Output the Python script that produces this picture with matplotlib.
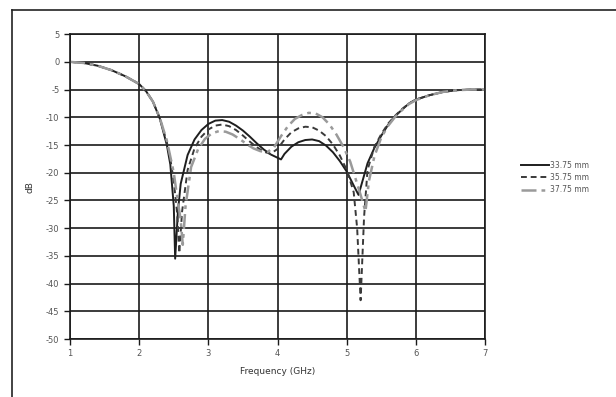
import matplotlib.pyplot as plt
from matplotlib.lines import Line2D

plt.rcParams['axes.unicode_minus'] = False

# 33.75 mm
f1 = [1.0, 1.2, 1.4, 1.6, 1.8, 2.0, 2.1, 2.2, 2.3, 2.4, 2.45, 2.5, 2.52, 2.56, 2.6, 2.7, 2.8, 2.9, 3.0,
      3.1, 3.2, 3.3, 3.4, 3.5, 3.6, 3.7, 3.8, 3.9, 4.0, 4.05, 4.1, 4.2, 4.3, 4.4, 4.5, 4.6, 4.7,
      4.8, 4.9, 5.0, 5.1, 5.17, 5.25, 5.3, 5.4, 5.5, 5.6, 5.7, 5.8, 5.9, 6.0, 6.2, 6.4, 6.6, 6.8, 7.0]
db1 = [0, -0.2, -0.7, -1.5, -2.6, -4.0, -5.3, -7.2, -10.3, -15.0, -18.5, -26.0, -35.5, -27.0, -22.0,
       -16.8, -14.0, -12.3, -11.2, -10.6, -10.5, -10.8, -11.5, -12.4, -13.5, -14.7, -15.8, -16.7,
       -17.3, -17.6, -16.6, -15.3, -14.5, -14.1, -14.0, -14.3, -15.1, -16.3, -17.9, -19.8, -22.3,
       -24.0, -20.5, -18.3, -15.5, -13.3, -11.3, -9.8, -8.6, -7.5, -6.8, -6.0, -5.4, -5.1, -5.0, -5.0]

# 35.75 mm
f2 = [1.0, 1.2, 1.4, 1.6, 1.8, 2.0, 2.1, 2.2, 2.3, 2.4, 2.45, 2.5, 2.55, 2.58, 2.62, 2.7, 2.8, 2.9,
      3.0, 3.1, 3.2, 3.3, 3.4, 3.5, 3.6, 3.7, 3.8, 3.9, 4.0, 4.1, 4.2, 4.3, 4.4, 4.5, 4.6, 4.7,
      4.8, 4.9, 5.0, 5.1, 5.15, 5.2, 5.25, 5.3, 5.4, 5.5, 5.6, 5.7, 5.8, 5.9, 6.0, 6.2, 6.4,
      6.6, 6.8, 7.0]
db2 = [0, -0.2, -0.7, -1.5, -2.6, -4.0, -5.3, -7.2, -10.2, -14.5, -17.5, -21.5, -27.5, -34.5, -27.0,
       -19.5, -15.6, -13.5, -12.2, -11.5, -11.3, -11.6, -12.3, -13.3, -14.4, -15.4, -16.2, -16.6,
       -15.7, -14.0, -12.7, -12.0, -11.7, -11.8, -12.4, -13.4, -14.9, -16.9, -19.5, -23.5, -30.0,
       -43.0, -28.0, -19.5, -15.3, -13.0, -11.1, -9.7, -8.5, -7.5, -6.8, -6.0, -5.4, -5.1, -5.0, -5.0]

# 37.75 mm
f3 = [1.0, 1.2, 1.4, 1.6, 1.8, 2.0, 2.1, 2.2, 2.3, 2.4, 2.5, 2.55, 2.6, 2.63, 2.67, 2.75, 2.85,
      2.95, 3.05, 3.15, 3.25, 3.35, 3.45, 3.55, 3.65, 3.75, 3.85, 3.95, 4.05, 4.15, 4.25, 4.35,
      4.45, 4.55, 4.65, 4.75, 4.85, 4.95, 5.05, 5.12, 5.2, 5.27, 5.32, 5.4, 5.5, 5.6, 5.7, 5.8,
      5.9, 6.0, 6.2, 6.4, 6.6, 6.8, 7.0]
db3 = [0, -0.2, -0.7, -1.5, -2.6, -4.0, -5.3, -7.2, -10.2, -14.2, -20.0, -24.5, -28.5, -33.0, -26.0,
       -19.0, -15.8, -13.9, -12.9, -12.5, -12.6, -13.1, -13.9, -14.8, -15.6, -16.1, -16.3, -15.4,
       -13.4, -11.6, -10.3, -9.6, -9.2, -9.3, -10.0, -11.3, -13.1, -15.3, -18.0, -20.8, -24.0,
       -27.0, -21.5, -17.0, -13.6, -11.5, -9.9, -8.7, -7.6, -6.9, -6.0, -5.4, -5.1, -5.0, -5.0]

fig = plt.figure(figsize=(6.16, 3.97), dpi=100)
ax = fig.add_axes([0.1136, 0.146, 0.674, 0.768])

ax.set_xlim(1, 7)
ax.set_ylim(-50, 5)
ax.set_xticks(range(1, 8))
ax.set_yticks(range(-50, 6, 5))
ax.grid(True, color='#1a1a1a', lw=1.2)
ax.set_axisbelow(True)
for s in ax.spines.values():
    s.set_color('#1a1a1a')
    s.set_linewidth(1.2)
ax.tick_params(axis='both', colors='#1a1a1a', labelcolor='#555555', labelsize=6, length=4, width=1)

ax.plot(f1, db1, color='#1e1e1e', lw=1.4, label='33.75 mm')
ax.plot(f2, db2, color='#3a3a3a', lw=1.4, ls=(0, (3, 2)), label='35.75 mm')
ax.plot(f3, db3, color='#9a9a9a', lw=1.8, ls=(0, (6, 2, 1.5, 2)), label='37.75 mm')

ax.set_xlabel('Frequency (GHz)', fontsize=6.5, color='#333333', labelpad=6)
ax.set_ylabel('dB', fontsize=6.5, color='#333333', labelpad=8)

ax.legend(loc='center left', bbox_to_anchor=(1.07, 0.53), frameon=False, fontsize=5.5,
          handlelength=3.6, handletextpad=0.2, labelspacing=0.45, labelcolor='#555555')

# outer frame of the scanned figure
fig.add_artist(Line2D([12 / 616, 12 / 616], [0, 1 - 10 / 397], color='#222222', lw=1.2))
fig.add_artist(Line2D([12 / 616, 1], [1 - 10 / 397, 1 - 10 / 397], color='#222222', lw=1.2))

fig.savefig('out.png', dpi=100)
